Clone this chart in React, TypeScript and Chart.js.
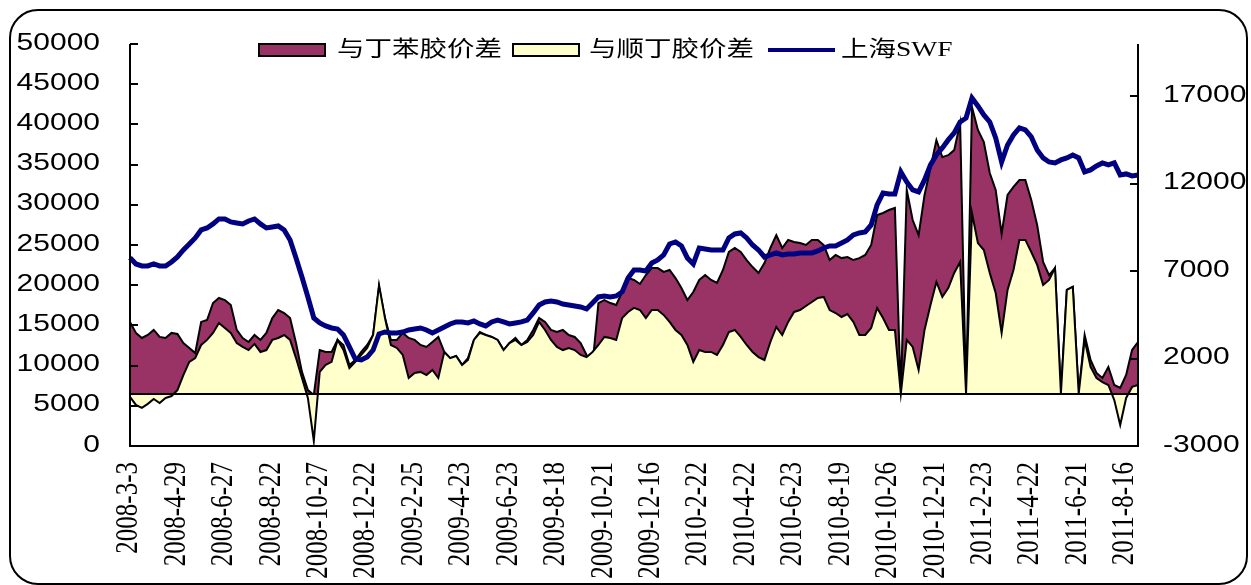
import React, { useEffect, useRef } from "react";
import { Chart, registerables } from "chart.js";

Chart.register(...registerables);

// ---- data ----
const tickLabels = [
  "2008-3-3", "2008-4-29", "2008-6-27", "2008-8-22", "2008-10-27", "2008-12-22",
  "2009-2-25", "2009-4-23", "2009-6-23", "2009-8-18", "2009-10-21", "2009-12-16",
  "2010-2-22", "2010-4-22", "2010-6-23", "2010-8-19", "2010-10-26", "2010-12-21",
  "2011-2-23", "2011-4-22", "2011-6-21", "2011-8-16",
];
const POINTS_PER_TICK = 8;

const seriesNames = ["与丁苯胶价差", "与顺丁胶价差", "上海SWF"];

// 上海SWF (left axis)
const swf = [
  23400, 22640, 22390, 22390, 22640, 22390, 22390, 22890, 23510, 24380,
  25130, 25880, 26870, 27120, 27620, 28240, 28240, 27870, 27740, 27620,
  27990, 28240, 27620, 27120, 27240, 27370, 26870, 25630, 23390, 21020,
  18540, 15920, 15300, 14930, 14680, 14550, 13810, 12320, 10820, 10700,
  11070, 11940, 13930, 14180, 14060, 14060, 14180, 14430, 14550, 14680,
  14430, 14060, 14430, 14800, 15180, 15430, 15430, 15300, 15550, 15180,
  14930, 15430, 15670, 15430, 15180, 15300, 15430, 15670, 16550, 17540,
  17910, 18040, 17910, 17660, 17540, 17420, 17290, 17040, 17790, 18540,
  18660, 18540, 18660, 19160, 20900, 21890, 21890, 21770, 22770, 23140,
  23760, 25130, 25380, 24880, 23390, 22640, 24630, 24510, 24380, 24380,
  24380, 25880, 26370, 26500, 25880, 25000, 24380, 23510, 23760, 24010,
  23760, 23880, 23880, 24010, 24010, 24010, 24260, 24630, 24880, 24880,
  25250, 25630, 26250, 26500, 26620, 27490, 29980, 31470, 31350, 31350,
  34090, 32840, 31850, 31600, 33090, 34960, 36200, 37070, 38070, 38940,
  40310, 40800, 43290, 42300, 41180, 40310, 38320, 35330, 37440, 38690,
  39560, 39310, 38440, 36820, 35830, 35330, 35210, 35580, 35830, 36200,
  35830, 34090, 34340, 34830, 35210, 34960, 35210, 33710, 33840, 33590,
  33710,
];

// 与丁苯胶价差 (right axis)
const sbrSpread = [
  4100, 3470, 3180, 3350, 3640, 3240, 3180, 3470, 3410, 2890,
  2610, 2320, 4100, 4210, 5180, 5470, 5350, 5070, 3640, 3180,
  2950, 3350, 3070, 3470, 4320, 4780, 4610, 4320, 2890, 1240,
  200, -80, 2490, 2380, 2380, 3070, 2780, 1640, 1920, 2380,
  2780, 3350, 6100, 4320, 3070, 3070, 3470, 3180, 3070, 2780,
  2670, 2950, 3240, 2380, 2030, 2150, 1640, 2030, 3070, 3520,
  3350, 3240, 3070, 2490, 2890, 3180, 2780, 3070, 3640, 4320,
  4100, 3640, 3520, 3640, 3350, 3240, 2890, 2210, 1640, 5180,
  5350, 5180, 5070, 5810, 6610, 6500, 6270, 6780, 7180, 7180,
  6960, 7070, 6610, 6040, 5350, 5810, 6500, 6780, 6500, 6330,
  7070, 8100, 8330, 8100, 7640, 7240, 6900, 7470, 8330, 9070,
  8330, 8790, 8670, 8610, 8500, 8790, 8790, 8500, 7640, 7930,
  7750, 7810, 7640, 7750, 7930, 8500, 10220, 10330, 10500, 10620,
  0, 11650, 9930, 9070, 11360, 12910, 14500, 13530, 13640, 13930,
  15470, 0, 16390, 15080, 14390, 12620, 11650, 9130, 11360, 11820,
  12220, 12220, 11070, 9640, 7530, 6780, 7180, 0, 5930, 6100,
  0, 3350, 1920, 1180, 890, 1520, 490, 320, 1060, 2490,
  2950,
];

// 与顺丁胶价差 (right axis)
const brSpread = [
  -190, -650, -820, -590, -310, -540, -250, -140, 200, 1060,
  1810, 2030, 2780, 3070, 3470, 4040, 3750, 3470, 2890, 2670,
  2490, 2840, 2380, 2490, 3070, 3180, 3350, 3070, 2030, 890,
  -250, -2700, 1240, 1640, 1810, 3070, 2490, 1460, 1810, 2210,
  2610, 3350, 6210, 4320, 2780, 2610, 2210, 890, 1180, 1240,
  1060, 1350, 890, 2380, 2030, 2150, 1640, 1920, 3070, 3470,
  3350, 3240, 3070, 2490, 2890, 3070, 2780, 2950, 3350, 4100,
  3640, 3070, 2670, 2490, 2610, 2490, 2210, 2090, 2380, 2780,
  3240, 3180, 3070, 4320, 4670, 4900, 4780, 4320, 4780, 4780,
  4500, 4100, 3640, 3350, 2780, 1810, 2490, 2380, 2380, 2210,
  2780, 3520, 3640, 3240, 2780, 2380, 2090, 1920, 2950, 3810,
  3350, 4100, 4670, 4780, 5010, 5240, 5470, 5530, 4780, 4610,
  4380, 4550, 4100, 3350, 3350, 3750, 4900, 4320, 3640, 3640,
  0, 3070, 2670, 1350, 3640, 5070, 6390, 5530, 6040, 6900,
  7530, 0, 10330, 8610, 8210, 6900, 5750, 3470, 5930, 7070,
  8790, 8790, 8100, 7360, 6210, 6500, 7180, 0, 5930, 6100,
  0, 3070, 1520, 890, 660, 490, -370, -1800, -250, 380,
  490,
];

const leftTicks = [0, 5000, 10000, 15000, 20000, 25000, 30000, 35000, 40000, 45000, 50000];
const rightTicks = [-3000, 2000, 7000, 12000, 17000];

const categories = swf.map((_, i) => String(i));

// ---- styles ----
const W = 1251;
const H = 585;
const MAROON = "#993366";
const CREAM = "#FFFFCC";
const NAVY = "#000080";
const HS = 1.25; // horizontal text stretch of the original picture
const NUM_FONT = '24px "Liberation Sans", Arial, sans-serif';
const DATE_FONT = '25px "Liberation Serif", "Times New Roman", serif';
const LEG_FONT = '22px "Liberation Serif", "Noto Sans CJK SC", serif';

function stretchedText(
  ctx: CanvasRenderingContext2D,
  text: string,
  x: number,
  y: number,
  align: CanvasTextAlign,
) {
  ctx.save();
  ctx.translate(x, y);
  ctx.scale(HS, 1);
  ctx.textAlign = align;
  ctx.textBaseline = "middle";
  ctx.fillText(text, 0, 0);
  ctx.restore();
}

function seg(ctx: CanvasRenderingContext2D, x1: number, y1: number, x2: number, y2: number) {
  ctx.beginPath();
  ctx.moveTo(x1, y1);
  ctx.lineTo(x2, y2);
  ctx.stroke();
}

const decorPlugin = {
  id: "decor",
  afterDatasetsDraw(chart: any) {
    const { ctx, chartArea: a, scales } = chart;
    const yL = scales.y;
    const yR = scales.y1;
    ctx.save();
    ctx.strokeStyle = "#000";
    ctx.lineWidth = 2;
    const zy = Math.round(yR.getPixelForValue(0));
    seg(ctx, a.left, zy, a.right, zy);
    seg(ctx, a.left, a.top, a.left, a.bottom + 1);
    seg(ctx, a.right, a.top, a.right, a.bottom + 1);
    seg(ctx, a.left - 1, a.bottom, a.right + 1, a.bottom);
    leftTicks.forEach((v) => {
      const py = Math.round(yL.getPixelForValue(v));
      seg(ctx, a.left, py, a.left + 8, py);
    });
    rightTicks.forEach((v) => {
      const py = Math.round(yR.getPixelForValue(v));
      seg(ctx, a.right - 8, py, a.right, py);
    });
    ctx.restore();
  },
  afterDraw(chart: any) {
    const { ctx, chartArea: a, scales } = chart;
    const yL = scales.y;
    const yR = scales.y1;
    const xs = scales.x;
    ctx.save();
    ctx.fillStyle = "#000";

    // left axis labels
    ctx.font = NUM_FONT;
    leftTicks.forEach((v) => {
      stretchedText(ctx, String(v), 100, yL.getPixelForValue(v) - 1, "right");
    });
    // right axis labels
    rightTicks.forEach((v) => {
      stretchedText(ctx, String(v), 1163, yR.getPixelForValue(v) - 1, "left");
    });

    // date labels (rotated)
    ctx.font = DATE_FONT;
    tickLabels.forEach((lab, k) => {
      const px = xs.getPixelForValue(k * POINTS_PER_TICK);
      ctx.save();
      ctx.translate(px - 1, a.bottom + 16);
      ctx.scale(HS, 1);
      ctx.rotate(-Math.PI / 2);
      ctx.textAlign = "right";
      ctx.textBaseline = "middle";
      ctx.fillText(lab, 0, 0);
      ctx.restore();
    });

    // legend
    const ly = 50;
    ctx.lineWidth = 2;
    ctx.strokeStyle = "#000";
    ctx.fillStyle = MAROON;
    ctx.fillRect(259, ly - 6, 66, 12);
    ctx.strokeRect(259, ly - 6, 66, 12);
    ctx.fillStyle = CREAM;
    ctx.fillRect(513, ly - 6, 66, 12);
    ctx.strokeRect(513, ly - 6, 66, 12);
    ctx.strokeStyle = NAVY;
    ctx.lineWidth = 4;
    seg(ctx, 768, ly, 835, ly);
    ctx.fillStyle = "#000";
    ctx.font = LEG_FONT;
    stretchedText(ctx, seriesNames[0], 337, ly, "left");
    stretchedText(ctx, seriesNames[1], 589, ly, "left");
    stretchedText(ctx, seriesNames[2], 841, ly, "left");

    // outer rounded frame
    ctx.strokeStyle = "#000";
    ctx.lineWidth = 2;
    ctx.beginPath();
    (ctx as any).roundRect(10, 10, 1237, 574, 28);
    ctx.stroke();
    ctx.restore();
  },
};

export default function App() {
  const ref = useRef<HTMLCanvasElement | null>(null);

  useEffect(() => {
    if (!ref.current) return;
    const chart = new Chart(ref.current, {
      type: "line",
      data: {
        labels: categories,
        datasets: [
          {
            label: seriesNames[0],
            data: sbrSpread,
            yAxisID: "y1",
            borderColor: "#000",
            borderWidth: 2,
            backgroundColor: MAROON,
            fill: "origin",
            pointRadius: 0,
            tension: 0,
            order: 3,
          },
          {
            label: seriesNames[1],
            data: brSpread,
            yAxisID: "y1",
            borderColor: "#000",
            borderWidth: 2,
            backgroundColor: CREAM,
            fill: "origin",
            pointRadius: 0,
            tension: 0,
            order: 2,
          },
          {
            label: seriesNames[2],
            data: swf,
            yAxisID: "y",
            borderColor: NAVY,
            borderWidth: 5,
            backgroundColor: NAVY,
            fill: false,
            pointRadius: 0,
            tension: 0,
            order: 1,
          },
        ],
      },
      options: {
        responsive: false,
        animation: false,
        devicePixelRatio: 1,
        layout: { padding: { top: 44, left: 0, right: 0, bottom: 0 } },
        plugins: {
          legend: { display: false },
          tooltip: { enabled: false },
        },
        scales: {
          x: {
            type: "category",
            offset: false,
            grid: { display: false },
            border: { display: false },
            ticks: { display: false },
            afterFit: (s: any) => {
              s.height = H - 446;
            },
          },
          y: {
            position: "left",
            min: 0,
            max: 50000,
            grid: { display: false },
            border: { display: false },
            ticks: { display: false },
            afterFit: (s: any) => {
              s.width = 130;
            },
          },
          y1: {
            position: "right",
            min: -3000,
            max: 20000,
            grid: { display: false },
            border: { display: false },
            ticks: { display: false },
            afterFit: (s: any) => {
              s.width = W - 1138;
            },
          },
        },
      },
      plugins: [decorPlugin],
    } as any);
    return () => chart.destroy();
  }, []);

  return (
    <div style={{ position: "absolute", left: 0, top: 0, width: W, height: H, background: "#fff" }}>
      <canvas ref={ref} width={W} height={H} style={{ display: "block" }} />
    </div>
  );
}
